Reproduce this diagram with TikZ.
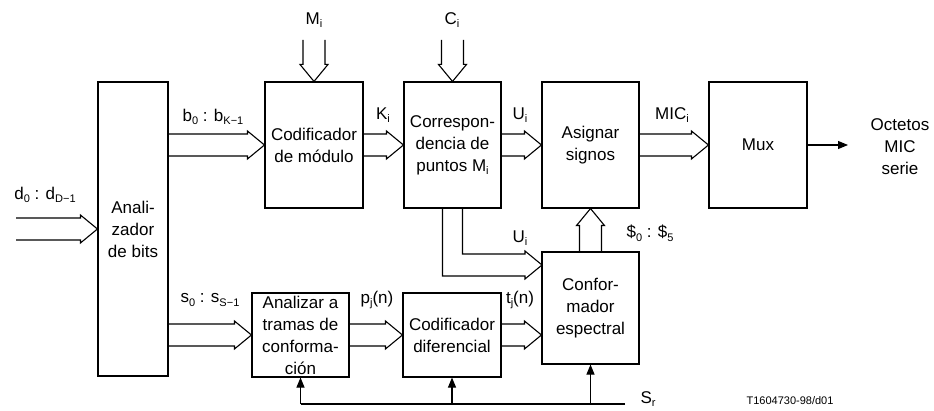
\documentclass[tikz,border=0pt]{standalone}
\usepackage{fontspec}
\setmainfont{Liberation Sans}
\usetikzlibrary{calc,arrows.meta}
\newcommand\sbx[1]{\raisebox{-0.4ex}{\fontsize{11}{11}\selectfont #1}}
\tikzset{
  every node/.style={font=\fontsize{17}{22}\selectfont},
  box/.style={draw, line width=1.1pt, align=center, inner sep=1pt},
  lbl/.style={inner sep=0pt},
  wire/.style={line width=1.1pt},
  dblh/.style={wire, line join=miter, to path={let \p1=(\tikztostart), \p2=(\tikztotarget) in
     (\x1,\y2+11pt) -- (\x2-17pt,\y2+11pt) -- (\x2-17pt,\y2+14pt) -- (\x2,\y2)
     -- (\x2-17pt,\y2-14pt) -- (\x2-17pt,\y2-11pt) -- (\x1,\y2-11pt)}},
  dbldown/.style={wire, to path={let \p1=(\tikztostart), \p2=(\tikztotarget) in
     (\x2-11pt,\y1) -- (\x2-11pt,\y2+17pt) -- (\x2-14pt,\y2+17pt) -- (\x2,\y2)
     -- (\x2+14pt,\y2+17pt) -- (\x2+11pt,\y2+17pt) -- (\x2+11pt,\y1)}},
  dblup/.style={wire, to path={let \p1=(\tikztostart), \p2=(\tikztotarget) in
     (\x2-11pt,\y1) -- (\x2-11pt,\y2-17pt) -- (\x2-14pt,\y2-17pt) -- (\x2,\y2)
     -- (\x2+14pt,\y2-17pt) -- (\x2+11pt,\y2-17pt) -- (\x2+11pt,\y1)}},
  sarrow/.style={wire, -{Triangle[length=10pt,width=8pt]}}
}
\begin{document}
\begin{tikzpicture}[x=1pt,y=-1pt]
\useasboundingbox (0,0) rectangle (934,411);
% boxes
\node[box, minimum width=70pt, minimum height=294pt] (an) at (133,229) {Anali-\\zador\\de bits};
\node[box, minimum width=98pt, minimum height=126pt] (cm) at (314,145) {Codificador\\de módulo};
\node[box, minimum width=97pt, minimum height=126pt] (corr) at (452.5,145) {Correspon-\\dencia de\\puntos M\sbx{i}};
\node[box, minimum width=97pt, minimum height=126pt] (asig) at (590.5,145) {Asignar\\signos};
\node[box, minimum width=98pt, minimum height=126pt] (mux) at (758,145) {Mux};
\node[box, minimum width=97pt, minimum height=112pt] (conf) at (590.5,308) {Confor-\\mador\\espectral};
\node[box, minimum width=97pt, minimum height=84pt] (at) at (300.5,335) {Analizar a\\tramas de\\conforma-\\ción};
\node[box, minimum width=98pt, minimum height=84pt] (cd) at (452,335) {Codificador\\diferencial};
% free ends
\coordinate (din) at (16,229);
\coordinate (mtop) at (314,40);
\coordinate (ctop) at (452.5,40);
\coordinate (uin) at (542,265);
\coordinate (out) at (848,145);
\coordinate (sr) at (625,404);
% double arrows
\draw[dblh] (din) to (an.west);
\draw[dblh] (an.east) to (cm.west);
\draw[dblh] (cm.east) to (corr.west);
\draw[dblh] (corr.east) to (asig.west);
\draw[dblh] (asig.east) to (mux.west);
\draw[dblh] (an.east) to (at.west);
\draw[dblh] (at.east) to (cd.west);
\draw[dblh] (cd.east) to (conf.west |- cd.east);
\draw[dbldown] (mtop) to (cm.north);
\draw[dbldown] (ctop) to (corr.north);
\draw[dblup] (conf.north) to (asig.south);
\draw[wire] let \p1=(corr.south), \p2=(uin) in
  (\x1-10pt,\y1) |- (\x2-17pt,\y2-11pt) -- (\x2-17pt,\y2-14pt) -- (\x2,\y2)
  -- (\x2-17pt,\y2+14pt) -- (\x2-17pt,\y2+11pt) -| (\x1+10pt,\y1);
% single arrows
\draw[sarrow] (mux.east) -- (out);
\draw[wire] (sr) -- (at.south |- sr);
\draw[sarrow] (at.south |- sr) -- (at.south);
\draw[sarrow] (cd.south |- sr) -- (cd.south);
\draw[sarrow] (conf.south |- sr) -- (conf.south);
% labels
\node[lbl] (ld) at (45,195) {d\sbx{0} : d\sbx{D−1}};
\node[lbl] (lb) at (213,117) {b\sbx{0} : b\sbx{K−1}};
\node[lbl] (ls) at (210,300) {s\sbx{0} : s\sbx{S−1}};
\node[lbl] (lk) at (383,115) {K\sbx{i}};
\node[lbl] (lu) at (520,115) {U\sbx{i}};
\node[lbl] (lmic) at (672,115) {MIC\sbx{i}};
\node[lbl] (lm) at (314,20) {M\sbx{i}};
\node[lbl] (lc) at (452,20) {C\sbx{i}};
\node[lbl] (lu2) at (520,238) {U\sbx{i}};
\node[lbl] (lsd) at (650,233) {\$\sbx{0} : \$\sbx{5}};
\node[lbl] (lp) at (377,300) {p\sbx{j}(n)};
\node[lbl] (lt) at (520,300) {t\sbx{j}(n)};
\node[lbl, align=center] (loct) at (900,147) {Octetos\\MIC\\serie};
\node[lbl] (lsr) at (648,399) {S\sbx{r}};
\node[lbl, font=\fontsize{11}{11}\selectfont] (lref) at (790,401) {T1604730-98/d01};
\end{tikzpicture}
\end{document}
